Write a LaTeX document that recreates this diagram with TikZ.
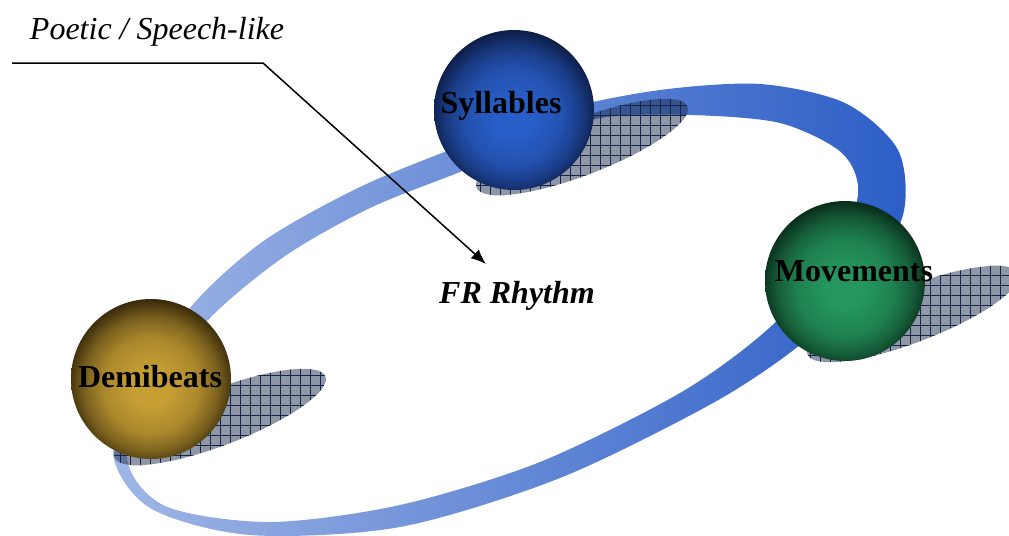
\documentclass[tikz,border=0pt]{standalone}
\usepackage{fontspec}
\setmainfont{Liberation Serif}
\usetikzlibrary{arrows.meta,positioning,patterns.meta}
\definecolor{bandlt}{RGB}{160,182,230}
\definecolor{banddk}{RGB}{44,94,198}
\definecolor{blotfill}{RGB}{31,47,79}
\definecolor{blotline}{RGB}{20,36,72}
\colorlet{sphin}{blue}
\colorlet{sphout}{black}
\pgfdeclareradialshading[sphin,sphout]{sphere}{\pgfpoint{0bp}{-3bp}}{color(0bp)=(sphin); color(6bp)=(sphin); color(15bp)=(sphin!80!sphout); color(21bp)=(sphin!45!sphout); color(26bp)=(sphout); color(50bp)=(sphout)}

\begin{document}
\begin{tikzpicture}[
  x=0.5pt,y=-0.5pt,
  ball/.style 2 args={circle,minimum size=80pt,inner sep=0pt,/utils/exec={\colorlet{sphin}{#1}\colorlet{sphout}{#2}},shade,shading=sphere},
  balltxt/.style={anchor=base,font=\fontsize{16}{19}\selectfont\bfseries},
  blot/.style={preaction={fill=blotfill,fill opacity=0.5},pattern={Hatch[angle=0,distance=5pt,line width=0.5pt]},pattern color=blotline},
  arr/.style={-{Latex[length=7.5pt,width=6pt]},line width=0.75pt}
]
\useasboundingbox (0,0) rectangle (1009,536);
\clip (0,0) rectangle (1009,536);
\shade[left color=bandlt,right color=banddk,even odd rule]
  plot[smooth cycle] coordinates {(113,452) (150,508) (250,535) (400,527) (560,478) (713,403) (800,345) (862,285) (903,215) (898,150) (845,103) (760,84) (660,90) (560,110) (460,146) (360,187) (265,240) (195,302) (145,375)}
  plot[smooth cycle] coordinates {(127,457) (165,506) (270,522) (400,505) (540,462) (680,393) (767,330) (830,260) (858,195) (842,153) (780,123) (690,115) (600,118) (525,145) (460,172) (370,208) (285,256) (210,318) (160,385)};
\coordinate (syl-c) at (514,110);
\coordinate (mov-c) at (845,281);
\coordinate (demi-c) at (151,379);
\path[blot] ([shift={(68,37)}]syl-c) ellipse [x radius=113,y radius=28,rotate=21];
\path[blot] ([shift={(68,33)}]mov-c) ellipse [x radius=113,y radius=28,rotate=21];
\path[blot] ([shift={(69,38)}]demi-c) ellipse [x radius=113,y radius=28,rotate=21];
\node[ball={rgb,255:red,40;green,94;blue,200}{rgb,255:red,14;green,30;blue,74}] (syl) at (syl-c) {};
\node[ball={rgb,255:red,36;green,150;blue,94}{rgb,255:red,10;green,48;blue,28}] (mov) at (mov-c) {};
\node[ball={rgb,255:red,198;green,158;blue,52}{rgb,255:red,60;green,46;blue,12}] (demi) at (demi-c) {};
\node[balltxt] (syl-t) at ([shift={(-13,3)}]syl.center) {Syllables};
\node[balltxt] (mov-t) at ([shift={(9,0)}]mov.center) {Movements};
\node[balltxt] (demi-t) at ([shift={(-1,8)}]demi.center) {Demibeats};
\node[anchor=base,font=\fontsize{16}{19}\selectfont\bfseries\itshape] (fr) at (517,303) {FR Rhythm};
\node[anchor=base,font=\fontsize{16}{19}\selectfont\itshape] (ps) at (157,39) {Poetic / Speech-like};
\coordinate (ps-a) at (12,63);
\coordinate (ps-b) at (263,63);
\coordinate (ps-c) at (486,264);
\draw[arr] (ps-a) -- (ps-b) -- (ps-c);
\end{tikzpicture}
\end{document}
